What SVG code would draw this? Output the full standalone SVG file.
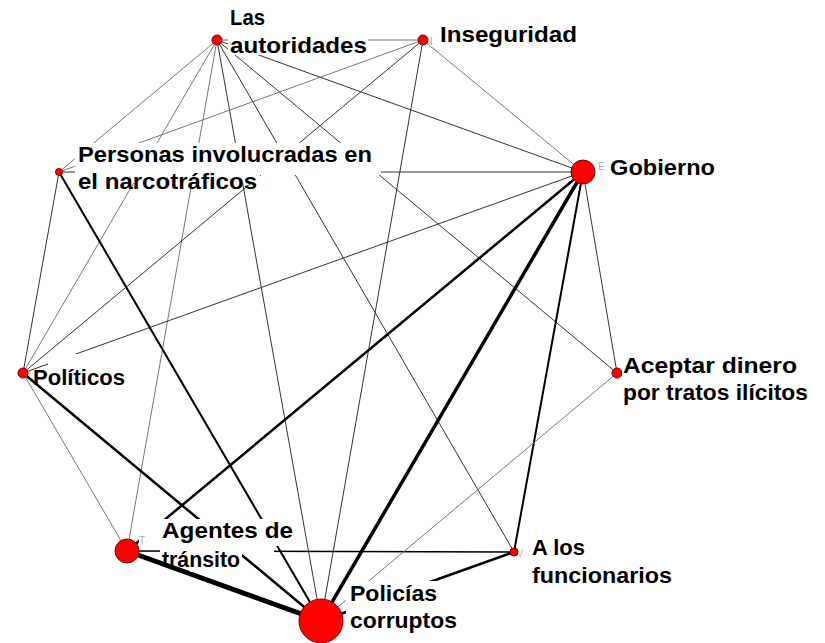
<svg xmlns="http://www.w3.org/2000/svg" width="825" height="643" viewBox="0 0 825 643">
<style>
.e{stroke:#333;stroke-width:1;fill:none}
.g{stroke:#777;stroke-width:1;fill:none}
.k{stroke:#000;fill:none;stroke-linecap:round}
.n{fill:#ff0000;stroke:#7a0000;stroke-width:1}
.bg{fill:#fff}
.t{font-family:"Liberation Sans",Arial,sans-serif;font-weight:bold;font-size:22px;fill:#000}
.s{font-family:"Liberation Sans",Arial,sans-serif;font-size:10px;fill:#aaa}
</style>
<rect width="825" height="643" fill="#fff"/>
<g id="edges">
<line class="g" x1="217" y1="40" x2="423" y2="40"/>
<line class="g" x1="217" y1="40" x2="59" y2="172"/>
<line class="g" x1="217" y1="40" x2="23" y2="373"/>
<line class="g" x1="217" y1="40" x2="127" y2="551"/>
<line class="e" x1="217" y1="40" x2="321" y2="621"/>
<line class="e" x1="217" y1="40" x2="514" y2="552"/>
<line class="e" x1="217" y1="40" x2="617" y2="373"/>
<line class="e" x1="217" y1="40" x2="583" y2="172"/>
<line class="g" x1="423" y1="40" x2="59" y2="172"/>
<line class="e" x1="423" y1="40" x2="23" y2="373"/>
<line class="e" x1="423" y1="40" x2="321" y2="621"/>
<line class="g" x1="423" y1="40" x2="583" y2="172"/>
<line class="e" x1="583" y1="172" x2="59" y2="172"/>
<line class="e" x1="583" y1="172" x2="23" y2="373"/>
<line class="k" stroke-width="2.5" x1="583" y1="172" x2="127" y2="551"/>
<line class="k" stroke-width="3.5" x1="583" y1="172" x2="321" y2="621"/>
<line class="k" stroke-width="2" x1="583" y1="172" x2="514" y2="552"/>
<line class="e" x1="583" y1="172" x2="617" y2="373"/>
<line class="e" x1="59" y1="172" x2="23" y2="373"/>
<line class="k" stroke-width="2" x1="59" y1="172" x2="321" y2="621"/>
<line class="k" stroke-width="2.5" x1="23" y1="373" x2="321" y2="621"/>
<line class="g" x1="23" y1="373" x2="127" y2="551"/>
<line class="k" stroke-width="5" x1="127" y1="551" x2="321" y2="621"/>
<line class="k" stroke-width="1.5" x1="127" y1="551" x2="514" y2="552"/>
<line class="k" stroke-width="2.5" x1="514" y1="552" x2="321" y2="621"/>
<line class="g" x1="617" y1="373" x2="321" y2="621"/>
</g>
<g id="n-autoridades">
<circle class="n" cx="217" cy="40" r="5"/>
<rect class="bg" x="228" y="9" width="40" height="19"/>
<rect class="bg" x="228" y="31" width="140" height="24"/>
<text class="t" x="230" y="25" textLength="35" lengthAdjust="spacingAndGlyphs">Las</text>
<text class="t" x="230" y="53" textLength="137" lengthAdjust="spacingAndGlyphs">autoridades</text>
</g>
<g id="n-inseguridad">
<circle class="n" cx="423" cy="40" r="5"/>
<rect class="bg" x="438" y="24" width="142" height="23"/>
<text class="s" x="430" y="45">I</text>
<text class="t" x="440" y="42" textLength="137" lengthAdjust="spacingAndGlyphs">Inseguridad</text>
</g>
<g id="n-gobierno">
<circle class="n" cx="583" cy="172" r="12"/>
<rect class="bg" x="606" y="156" width="112" height="24"/>
<text class="s" x="598" y="170">E</text>
<text class="t" x="610" y="175" textLength="105" lengthAdjust="spacingAndGlyphs">Gobierno</text>
</g>
<g id="n-personas">
<circle class="n" cx="59" cy="172" r="3.5"/>
<rect class="bg" x="75" y="143" width="306" height="32"/>
<rect class="bg" x="75" y="175" width="185" height="8"/>
<text class="t" x="78" y="162" textLength="294" lengthAdjust="spacingAndGlyphs">Personas involucradas en</text>
<text class="t" x="78" y="189" textLength="179" lengthAdjust="spacingAndGlyphs">el narcotráficos</text>
</g>
<g id="n-politicos">
<circle class="n" cx="23" cy="373" r="5"/>
<rect class="bg" x="48" y="354" width="80" height="38"/>
<text class="t" x="33" y="385" textLength="92" lengthAdjust="spacingAndGlyphs">Políticos</text>
</g>
<g id="n-aceptar">
<circle class="n" cx="617" cy="373" r="5"/>
<rect class="bg" x="622" y="357" width="178" height="22"/>
<rect class="bg" x="620" y="379" width="190" height="27"/>
<text class="t" x="623" y="373" textLength="174" lengthAdjust="spacingAndGlyphs">Aceptar dinero</text>
<text class="t" x="623" y="400" textLength="185" lengthAdjust="spacingAndGlyphs">por tratos ilícitos</text>
</g>
<g id="n-agentes">
<circle class="n" cx="127" cy="551" r="12"/>
<path class="bg" d="M139 519H295V546H274V554H242V572H190V560H160V548H139Z"/>
<text class="s" x="139" y="544">T</text>
<text class="t" x="162" y="538" textLength="131" lengthAdjust="spacingAndGlyphs">Agentes de</text>
<text class="t" x="162" y="567" textLength="78" lengthAdjust="spacingAndGlyphs">tránsito</text>
</g>
<g id="n-funcionarios">
<circle class="n" cx="514" cy="552" r="4"/>
<rect class="bg" x="530" y="538" width="58" height="21"/>
<rect class="bg" x="528" y="560" width="146" height="27"/>
<text class="s" x="520" y="557">/</text>
<text class="t" x="532" y="555" textLength="53" lengthAdjust="spacingAndGlyphs">A los</text>
<text class="t" x="532" y="583" textLength="140" lengthAdjust="spacingAndGlyphs">funcionarios</text>
</g>
<g id="n-policias">
<circle class="n" cx="321" cy="621" r="22"/>
<rect class="bg" x="346" y="581" width="94" height="24"/>
<rect class="bg" x="346" y="605" width="114" height="28"/>
<text class="t" x="350" y="601" textLength="87" lengthAdjust="spacingAndGlyphs">Policías</text>
<text class="t" x="350" y="628" textLength="107" lengthAdjust="spacingAndGlyphs">corruptos</text>
</g>
</svg>
